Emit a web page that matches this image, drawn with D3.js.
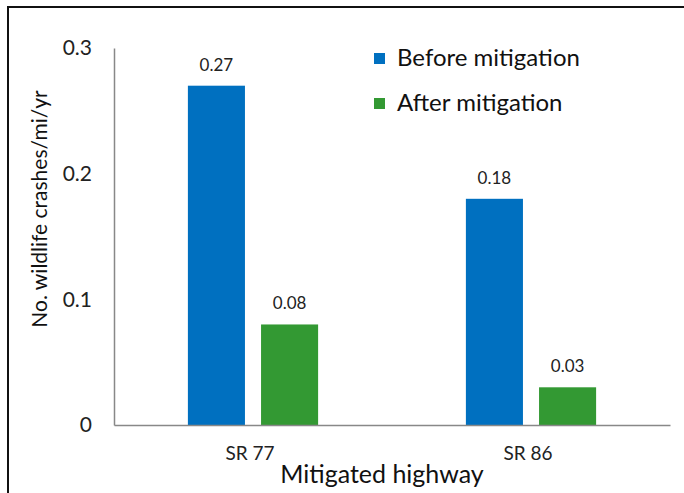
<!DOCTYPE html>
<html><head><meta charset="utf-8">
<script src="https://cdn.jsdelivr.net/npm/d3@7"></script>
<style>
html,body{margin:0;padding:0;background:#fff;}
svg{display:block;font-family:Lato,"Open Sans",sans-serif;}
</style></head>
<body>
<svg id="chart" width="684" height="493"></svg>
<script>
const categories = ["SR 77", "SR 86"];
const seriesNames = ["Before mitigation", "After mitigation"];
const beforeValues = [0.27, 0.18];
const afterValues = [0.08, 0.03];
const yTicks = [0, 0.1, 0.2, 0.3];
const colors = ["#0070C0", "#339933"];

const svg = d3.select("#chart");
// frame
svg.append("rect").attr("x", 8).attr("y", 7).attr("width", 700).attr("height", 520)
  .attr("fill", "none").attr("stroke", "#111").attr("stroke-width", 2);

const plot = {left: 114, right: 670, top: 48, bottom: 425};
const x = d3.scaleBand().domain(categories).range([plot.left, plot.right]);
const inner = d3.scaleBand().domain(seriesNames).range([0, x.bandwidth()]).paddingInner(0.22).paddingOuter(1.01);
const y = d3.scaleLinear().domain([0, 0.3]).range([plot.bottom, plot.top]);

const data = categories.map((c, i) => ({cat: c, vals: [beforeValues[i], afterValues[i]]}));

const groups = svg.selectAll("g.cat").data(data).join("g")
  .attr("transform", d => `translate(${x(d.cat)},0)`);
groups.selectAll("rect").data(d => d.vals.map((v, j) => ({v, s: seriesNames[j], j}))).join("rect")
  .attr("x", d => inner(d.s)).attr("width", inner.bandwidth())
  .attr("y", d => y(d.v)).attr("height", d => y(0) - y(d.v))
  .attr("fill", d => colors[d.j]);
groups.selectAll("text").data(d => d.vals.map((v, j) => ({v, s: seriesNames[j], j}))).join("text")
  .attr("x", d => inner(d.s) + inner.bandwidth() / 2).attr("y", d => y(d.v) - 15)
  .attr("text-anchor", "middle").attr("font-size", 17).attr("fill", "#222")
  .text(d => d3.format(".2f")(d.v));

// y axis
const yAxis = svg.append("g").attr("transform", `translate(${plot.left},0)`)
  .call(d3.axisLeft(y).tickValues(yTicks).tickSize(0).tickPadding(22).tickFormat(d => d === 0 ? "0" : d3.format(".1f")(d)));
yAxis.select(".domain").attr("stroke", "#888").attr("stroke-width", 1.5);
yAxis.selectAll("text").attr("font-size", 21).attr("fill", "#222").attr("font-family", "Lato, sans-serif");

// x axis
const xAxis = svg.append("g").attr("transform", `translate(0,${plot.bottom})`)
  .call(d3.axisBottom(x).tickSize(0).tickPadding(22));
xAxis.select(".domain").attr("stroke", "#888").attr("stroke-width", 1.5);
xAxis.selectAll("text").attr("font-size", 19).attr("fill", "#222").attr("font-family", "Lato, sans-serif").attr("dx", -3);

// axis titles
svg.append("text").attr("x", 382).attr("y", 483).attr("text-anchor", "middle")
  .attr("font-size", 25).attr("fill", "#111").text("Mitigated highway");
svg.append("text").attr("transform", "translate(47,209) rotate(-90)").attr("text-anchor", "middle")
  .attr("font-size", 21).attr("fill", "#111").text("No. wildlife crashes/mi/yr");

// legend
const legend = svg.append("g").attr("transform", "translate(374,53)");
seriesNames.forEach((s, i) => {
  const g = legend.append("g").attr("transform", `translate(0,${i * 45})`);
  g.append("rect").attr("width", 11).attr("height", 11).attr("fill", colors[i]);
  g.append("text").attr("x", 23).attr("y", 13).attr("font-size", 24).attr("fill", "#111").text(s);
});
</script>
</body></html>
